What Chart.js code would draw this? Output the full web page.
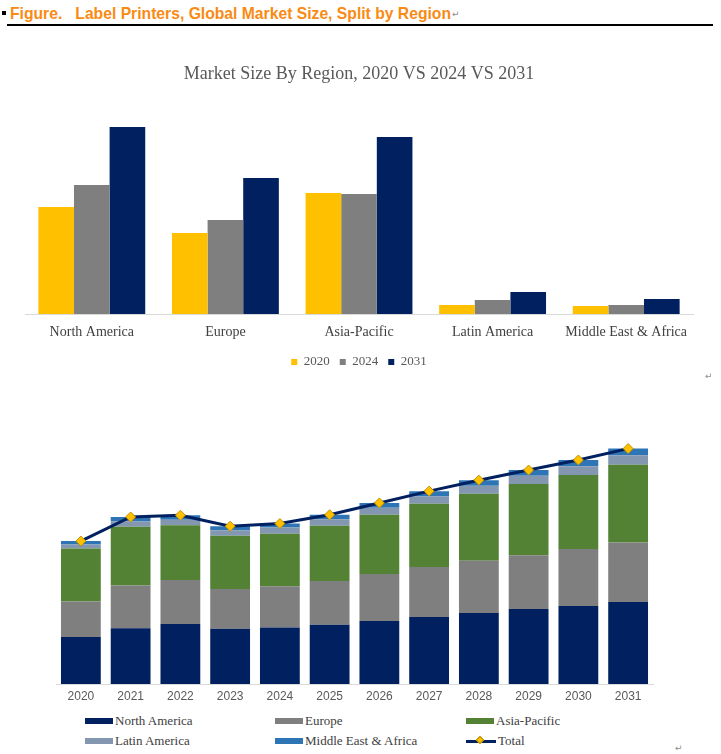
<!DOCTYPE html>
<html>
<head>
<meta charset="utf-8">
<script src="https://cdn.jsdelivr.net/npm/chart.js"></script>
<style>
  body { margin: 0; width: 721px; height: 754px; position: relative; background: #fff; overflow: hidden; }
  .abs { position: absolute; }
  #head { left: 0; top: 4px; height: 20px; line-height: 20px; white-space: nowrap;
          font-family: 'Liberation Sans', Arial, sans-serif; font-weight: bold; font-size: 15.7px; color: #F98B14; }
  #bullet { left: 2px; top: 11px; width: 4px; height: 4px; background: #000; }
  #rule { left: 7px; top: 24px; width: 706px; height: 1.5px; background: #000; }
  .pm { position: absolute; font-family: 'DejaVu Sans', sans-serif; font-size: 9px; color: #8c8c8c; }
  #c1 { left: 0; top: 40px; }
  #c2 { left: 0; top: 400px; }
  .leg { position: absolute; height: 16px; display: flex; align-items: center; white-space: nowrap;
         font-family: 'Liberation Serif', 'Times New Roman', serif; font-size: 13px; color: #404040; }
  .sw { width: 28px; height: 6px; margin-right: 2px; }
  .tot { width: 30px; height: 3px; margin-right: 2px; position: relative; }
  .tot i { position: absolute; left: 11px; top: -3px; width: 6px; height: 6px; transform: rotate(45deg);
           background: #FFC000; border: 0.5px solid #BF9000; box-sizing: border-box; }
</style>
</head>
<body>
<div id="bullet" class="abs"></div>
<div id="head" class="abs"><span style="margin-left:10px">Figure.</span><span style="margin-left:13px">Label Printers, Global Market Size, Split by Region</span></div>
<span class="pm" style="left:452px;top:9px">↵</span>
<div id="rule" class="abs"></div>

<canvas id="c1" class="abs" width="721" height="340"></canvas>
<span class="pm" style="left:705px;top:371px">↵</span>

<canvas id="c2" class="abs" width="721" height="310"></canvas>
<div id="legend2"></div>
<span class="pm" style="left:675px;top:743px">↵</span>

<script>
// regions and years
const regions = ['North America', 'Europe', 'Asia-Pacific', 'Latin America', 'Middle East & Africa'];
const years = ['2020', '2021', '2022', '2023', '2024', '2025', '2026', '2027', '2028', '2029', '2030', '2031'];
const compareYears = ['2020', '2024', '2031'];

// market size per region per year
const northAmerica     = [107, 127, 137, 126, 129, 135, 144, 153, 162, 171, 178, 187];
const europe           = [ 81,  98, 100,  91,  94, 100, 107, 114, 119, 123, 130, 136];
const asiaPacific      = [121, 134, 125, 121, 120, 126, 135, 144, 153, 162, 169, 177];
const latinAmerica     = [  9,  12,  13,  13,  14,  15,  16,  17,  18,  19,  20,  22];
const middleEastAfrica = [  8,  10,  10,   9,   9,  10,  11,  12,  13,  13,  14,  15];

const regionSeries = [northAmerica, europe, asiaPacific, latinAmerica, middleEastAfrica];
const regionColors = ['#002060', '#7F7F7F', '#548235', '#8497B0', '#2E75B6'];
const yearColors = ['#FFC000', '#7F7F7F', '#002060'];

const total = years.map((_, i) => regionSeries.reduce((s, arr) => s + arr[i], 0));

// --- chart 1: 2020 vs 2024 vs 2031 by region ---
new Chart(document.getElementById('c1'), {
    type: 'bar',
    data: {
        labels: regions,
        datasets: compareYears.map((y, k) => {
            const idx = years.indexOf(y);
            return {
                label: y,
                data: regionSeries.map(arr => arr[idx]),
                backgroundColor: yearColors[k],
                categoryPercentage: 0.8,
                barPercentage: 1.0
            };
        })
    },
    options: {
        responsive: false,
        animation: false,
        layout: { padding: { left: 25, right: 28, top: 0, bottom: 1.5 } },
        plugins: {
            title: {
                display: true,
                text: 'Market Size By Region, 2020 VS 2024 VS 2031',
                color: '#595959',
                font: { family: "'Liberation Serif', serif", size: 18, weight: 'normal' },
                padding: { top: 23.2, bottom: 29.2 }
            },
            legend: {
                position: 'bottom',
                labels: {
                    boxWidth: 6, boxHeight: 6, padding: 10, color: '#595959',
                    font: { family: "'Liberation Serif', serif", size: 13 }
                }
            },
            tooltip: { enabled: false }
        },
        scales: {
            x: {
                grid: { display: false, drawTicks: false },
                border: { color: '#D9D9D9' },
                ticks: { color: '#404040', padding: 9.6, font: { family: "'Liberation Serif', serif", size: 14 } },
                afterFit: s => { s.height = 31.5; }
            },
            y: { display: false, min: 0, max: 200 }
        }
    }
});

// --- chart 2: stacked by year with total line ---
const chart2 = new Chart(document.getElementById('c2'), {
    data: {
        labels: years,
        datasets: [
            {
                type: 'line',
                label: 'Total',
                data: total,
                stack: 'total',
                order: 0,
                borderColor: '#002060',
                borderWidth: 3,
                pointStyle: 'rectRot',
                pointRadius: 5,
                pointBackgroundColor: '#FFC000',
                pointBorderColor: '#BF9000',
                pointBorderWidth: 1,
                tension: 0
            },
            ...regions.map((r, k) => ({
                type: 'bar',
                label: r,
                data: regionSeries[k],
                backgroundColor: regionColors[k],
                stack: 'regions',
                order: 1,
                categoryPercentage: 0.8,
                barPercentage: 1.0
            }))
        ]
    },
    options: {
        responsive: false,
        animation: false,
        layout: { padding: { left: 56, right: 68, top: 21, bottom: 6 } },
        plugins: { legend: { display: false }, tooltip: { enabled: false } },
        scales: {
            x: {
                stacked: true,
                grid: { display: false, drawTicks: false },
                border: { color: '#D9D9D9' },
                ticks: { color: '#595959', padding: 5.8, font: { family: "'Liberation Sans', Arial, sans-serif", size: 12 } },
                afterFit: s => { s.height = 20; }
            },
            y: { stacked: true, display: false, min: 0, max: 600 }
        }
    }
});

// html legend for chart 2, two rows of three columns like the original
const legendOrder = ['North America', 'Europe', 'Asia-Pacific', 'Latin America', 'Middle East & Africa', 'Total'];
const colX = [85, 275, 466];
const rowY = [713, 733];
const legendBox = document.getElementById('legend2');
legendOrder.forEach((name, i) => {
    const ds = chart2.data.datasets.find(d => d.label === name);
    const item = document.createElement('div');
    item.className = 'leg';
    item.style.left = colX[i % 3] + 'px';
    item.style.top = rowY[Math.floor(i / 3)] + 'px';
    let sw;
    if (ds.type === 'line') {
        sw = document.createElement('span');
        sw.className = 'tot';
        sw.style.background = ds.borderColor;
        sw.appendChild(document.createElement('i'));
    } else {
        sw = document.createElement('span');
        sw.className = 'sw';
        sw.style.background = ds.backgroundColor;
    }
    item.appendChild(sw);
    item.appendChild(document.createTextNode(name));
    legendBox.appendChild(item);
});
</script>
</body>
</html>
